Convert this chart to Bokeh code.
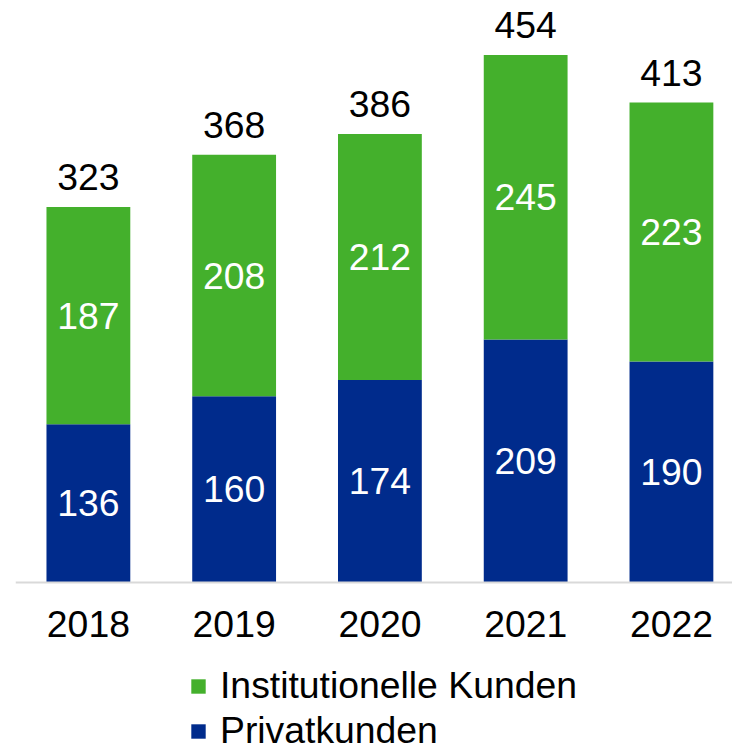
from bokeh.plotting import figure
from bokeh.models import ColumnDataSource, Range1d, Legend, LegendItem, FixedTicker, LinearAxis
from bokeh.embed import file_html
from bokeh.resources import INLINE
from bokeh.core.properties import value

years = ["2018", "2019", "2020", "2021", "2022"]
privatkunden = [136, 160, 174, 209, 190]
institutionelle = [187, 208, 212, 245, 223]
totals = [323, 368, 386, 454, 413]

GREEN = "#44b02c"
BLUE = "#002b8c"
FONT = "Liberation Sans"
FS = "28pt"

x = list(range(len(years)))
src = ColumnDataSource(dict(
    x=x,
    privat=privatkunden,
    inst=institutionelle,
    total=totals,
    privat_mid=[p / 2 for p in privatkunden],
    inst_mid=[p + i / 2 for p, i in zip(privatkunden, institutionelle)],
    privat_lbl=[str(v) for v in privatkunden],
    inst_lbl=[str(v) for v in institutionelle],
    total_lbl=[str(v) for v in totals],
))

p = figure(width=732, height=748, output_backend="svg", toolbar_location=None,
           x_range=Range1d(-0.5, 4.419), y_range=Range1d(-143.4, 500.9),
           x_axis_location=None, y_axis_location=None,
           min_border_left=15, min_border_right=0, min_border_top=0, min_border_bottom=0)
p.outline_line_color = None
p.xgrid.visible = False
p.ygrid.visible = False
p.background_fill_color = "white"
p.border_fill_color = "white"

rends = p.vbar_stack(["privat", "inst"], x="x", width=0.575, source=src,
                     color=[BLUE, GREEN], line_color=None)

ax = LinearAxis(fixed_location=0)
ax.ticker = FixedTicker(ticks=x)
ax.major_label_overrides = {i: y for i, y in enumerate(years)}
ax.axis_line_color = "#d9d9d9"
ax.axis_line_width = 2
ax.major_tick_line_color = None
ax.minor_tick_line_color = None
ax.major_label_text_font = FONT
ax.major_label_text_font_size = FS
ax.major_label_text_color = "black"
ax.major_label_standoff = 23
p.add_layout(ax, "below")

p.text(x="x", y="privat_mid", text="privat_lbl", source=src, text_color="white",
       text_font=value(FONT), text_font_size=FS, text_align="center", text_baseline="middle")
p.text(x="x", y="inst_mid", text="inst_lbl", source=src, text_color="white",
       text_font=value(FONT), text_font_size=FS, text_align="center", text_baseline="middle")
p.text(x="x", y="total", text="total_lbl", source=src, text_color="black", y_offset=-30,
       text_font=value(FONT), text_font_size=FS, text_align="center", text_baseline="middle")

legend = Legend(items=[LegendItem(label="Institutionelle Kunden", renderers=[rends[1]]),
                       LegendItem(label="Privatkunden", renderers=[rends[0]])],
                location=(174, -4), orientation="vertical",
                label_text_font=FONT, label_text_font_size=FS, label_text_color="black",
                glyph_width=18, glyph_height=18, label_standoff=13, spacing=2,
                padding=0, margin=0, border_line_color=None, background_fill_alpha=0)
p.add_layout(legend, "center")

open("out.html", "w").write(file_html(p, INLINE))
